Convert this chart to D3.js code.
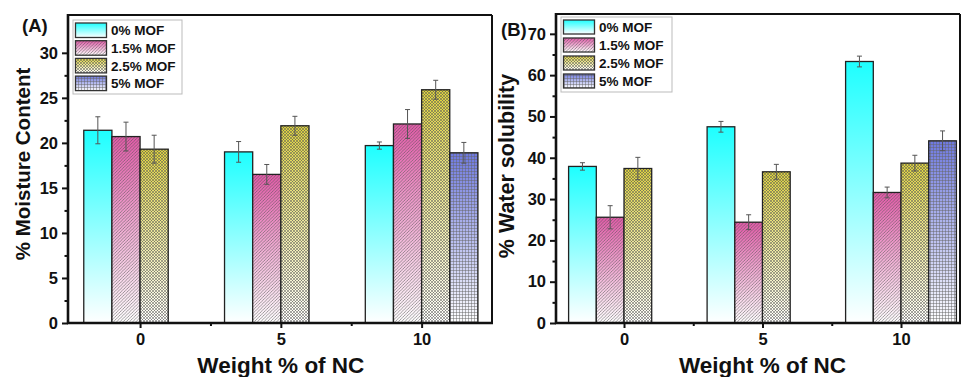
<!DOCTYPE html>
<html>
<head>
<meta charset="utf-8">
<script src="https://cdn.jsdelivr.net/npm/d3@7/dist/d3.min.js"></script>
<style>
  html, body { margin: 0; padding: 0; background: #fff; }
  svg { display: block; }
  text { font-family: "Liberation Sans", Arial, sans-serif; font-weight: bold; fill: #111; }
</style>
</head>
<body>
<svg id="chart" width="961" height="377"></svg>
<script>
// ---------------- DATA ----------------
const categories = [0, 5, 10];
const seriesLabels = ["0% MOF", "1.5% MOF", "2.5% MOF", "5% MOF"];
const xTickLabels = ["0", "5", "10"];
const xAxisTitle = "Weight % of NC";

// Panel A: % Moisture Content (per series, per category 0,5,10)
const moistureValues = [
  [21.4, 19.0, 19.7],
  [20.7, 16.5, 22.1],
  [19.3, 21.9, 25.9],
  [null, null, 18.9]
];
const moistureErrors = [
  [1.5, 1.15, 0.4],
  [1.6, 1.1, 1.6],
  [1.55, 1.05, 1.05],
  [null, null, 1.15]
];
const moistureTicks = [0, 5, 10, 15, 20, 25, 30];

// Panel B: % Water solubility
const solubilityValues = [
  [37.9, 47.5, 63.3],
  [25.6, 24.4, 31.6],
  [37.4, 36.6, 38.7],
  [null, null, 44.1]
];
const solubilityErrors = [
  [0.9, 1.3, 1.3],
  [2.8, 1.8, 1.3],
  [2.7, 1.8, 1.9],
  [null, null, 2.4]
];
const solubilityTicks = [0, 10, 20, 30, 40, 50, 60, 70];

// ---------------- STYLE ----------------
const seriesColors = ["#1effff", "#e25aa8", "#ddd23e", "#6d78df"];
const patternIds = ["pat-none", "pat-diag", "pat-dots", "pat-grid"];

const svg = d3.select("#chart");
const defs = svg.append("defs");

// gradients
seriesColors.forEach((c, i) => {
  const g = defs.append("linearGradient")
    .attr("id", "grad" + i).attr("x1", 0).attr("y1", 0).attr("x2", 0).attr("y2", 1);
  g.append("stop").attr("offset", "0%").attr("stop-color", c);
  g.append("stop").attr("offset", "100%").attr("stop-color", "#ffffff");
});

// patterns
defs.append("pattern").attr("id", "pat-none").attr("width", 4).attr("height", 4)
  .attr("patternUnits", "userSpaceOnUse");
const pd = defs.append("pattern").attr("id", "pat-diag").attr("width", 3.2).attr("height", 3.2)
  .attr("patternUnits", "userSpaceOnUse");
pd.append("path").attr("d", "M-1,1 l2,-2 M0,3.2 l3.2,-3.2 M2.2,4.2 l2,-2")
  .attr("stroke", "#555").attr("stroke-width", 0.8).attr("stroke-opacity", 0.7);
const pdot = defs.append("pattern").attr("id", "pat-dots").attr("width", 3).attr("height", 3)
  .attr("patternUnits", "userSpaceOnUse");
pdot.append("path").attr("d", "M0,0 L3,3 M3,0 L0,3")
  .attr("stroke", "#555").attr("stroke-width", 0.7).attr("stroke-opacity", 0.75);
const pg = defs.append("pattern").attr("id", "pat-grid").attr("width", 3).attr("height", 3)
  .attr("patternUnits", "userSpaceOnUse");
pg.append("path").attr("d", "M0,0.5 H3 M0.5,0 V3")
  .attr("stroke", "#666").attr("stroke-width", 0.7).attr("stroke-opacity", 0.7);

function drawPanel(cfg) {
  const x = d3.scaleLinear().domain(cfg.xDomain).range([cfg.left, cfg.right]);
  const y = d3.scaleLinear().domain(cfg.yDomain).range([cfg.bottom, cfg.top]);
  const g = svg.append("g");

  // bars
  cfg.values.forEach((vals, si) => {
    vals.forEach((v, ci) => {
      if (v == null) return;
      const x0 = x(categories[ci] + si - 2);
      const x1 = x(categories[ci] + si - 1);
      const bx = x0, bw = x1 - x0, by = y(v), bh = y(0) - y(v);
      g.append("rect").attr("x", bx).attr("y", by).attr("width", bw).attr("height", bh)
        .attr("fill", "url(#grad" + si + ")");
      g.append("rect").attr("x", bx).attr("y", by).attr("width", bw).attr("height", bh)
        .attr("fill", "url(#" + patternIds[si] + ")");
      g.append("rect").attr("x", bx).attr("y", by).attr("width", bw).attr("height", bh)
        .attr("fill", "none").attr("stroke", "#222").attr("stroke-width", 1.3);
      const e = cfg.errors[si][ci];
      const cx = (x0 + x1) / 2;
      const eg = g.append("g").attr("stroke", "#555").attr("stroke-width", 1);
      eg.append("line").attr("x1", cx).attr("x2", cx).attr("y1", y(v + e)).attr("y2", y(v - e));
      eg.append("line").attr("x1", cx - 2.5).attr("x2", cx + 2.5).attr("y1", y(v + e)).attr("y2", y(v + e));
      eg.append("line").attr("x1", cx - 2.5).attr("x2", cx + 2.5).attr("y1", y(v - e)).attr("y2", y(v - e));
    });
  });

  // frame top & right
  g.append("line").attr("x1", cfg.left).attr("x2", cfg.right).attr("y1", cfg.top).attr("y2", cfg.top)
    .attr("stroke", "#111").attr("stroke-width", 2);
  g.append("line").attr("x1", cfg.right).attr("x2", cfg.right).attr("y1", cfg.top).attr("y2", cfg.bottom)
    .attr("stroke", "#111").attr("stroke-width", 2);

  // y axis
  const yAxis = d3.axisLeft(y).tickValues(cfg.yTicks).tickSize(6).tickPadding(4).tickFormat(d3.format("d"));
  const ya = g.append("g").attr("transform", `translate(${cfg.left},0)`).call(yAxis);
  ya.select(".domain").remove();
  ya.selectAll(".tick line").attr("stroke", "#111").attr("stroke-width", 2);
  ya.selectAll(".tick text").attr("font-size", 16.5).attr("font-weight", "bold")
    .attr("font-family", "Liberation Sans, Arial, sans-serif").attr("fill", "#111");
  const minorY = [];
  for (let i = 0; i < cfg.yTicks.length - 1; i++) minorY.push((cfg.yTicks[i] + cfg.yTicks[i + 1]) / 2);
  const yMinor = d3.axisLeft(y).tickValues(minorY).tickSize(3.5).tickFormat("");
  const ym = g.append("g").attr("transform", `translate(${cfg.left},0)`).call(yMinor);
  ym.select(".domain").remove();
  ym.selectAll(".tick line").attr("stroke", "#111").attr("stroke-width", 2);
  g.append("line").attr("x1", cfg.left).attr("x2", cfg.left).attr("y1", cfg.top - 1).attr("y2", cfg.bottom + 1)
    .attr("stroke", "#111").attr("stroke-width", 2.6);

  // x axis
  const xAxis = d3.axisBottom(x).tickValues(categories).tickSize(5).tickPadding(5)
    .tickFormat((d, i) => xTickLabels[i]);
  const xa = g.append("g").attr("transform", `translate(0,${cfg.bottom})`).call(xAxis);
  xa.select(".domain").remove();
  xa.selectAll(".tick line").attr("stroke", "#111").attr("stroke-width", 2);
  xa.selectAll(".tick text").attr("font-size", 16.5).attr("font-weight", "bold")
    .attr("font-family", "Liberation Sans, Arial, sans-serif").attr("fill", "#111");
  const minorX = [];
  for (let i = 0; i < categories.length - 1; i++) minorX.push((categories[i] + categories[i + 1]) / 2);
  const xMinor = d3.axisBottom(x).tickValues(minorX).tickSize(3).tickFormat("");
  const xm = g.append("g").attr("transform", `translate(0,${cfg.bottom})`).call(xMinor);
  xm.select(".domain").remove();
  xm.selectAll(".tick line").attr("stroke", "#111").attr("stroke-width", 2);
  g.append("line").attr("x1", cfg.left - 1).attr("x2", cfg.right + 1).attr("y1", cfg.bottom).attr("y2", cfg.bottom)
    .attr("stroke", "#111").attr("stroke-width", 2.6);

  // titles
  g.append("text").attr("x", x(5)).attr("y", 373).attr("text-anchor", "middle")
    .attr("font-size", 22.5).text(xAxisTitle);
  g.append("text").attr("transform", `translate(${cfg.yTitleX},${cfg.yTitleY}) rotate(-90)`)
    .attr("text-anchor", "middle").attr("font-size", cfg.yTitleSize).text(cfg.yTitle);
  g.append("text").attr("x", cfg.panelX).attr("y", cfg.panelY).attr("font-size", 18.5).text(cfg.panelLabel);

  // legend
  const L = cfg.legend;
  g.append("rect").attr("x", L.x).attr("y", L.y).attr("width", L.w).attr("height", L.h)
    .attr("fill", "#fff").attr("stroke", "#bbb").attr("stroke-width", 1);
  seriesLabels.forEach((lab, si) => {
    const ry = L.y + 3 + si * L.step;
    g.append("rect").attr("x", L.x + 2.5).attr("y", ry).attr("width", L.sw).attr("height", L.sh)
      .attr("fill", "url(#grad" + si + ")");
    g.append("rect").attr("x", L.x + 2.5).attr("y", ry).attr("width", L.sw).attr("height", L.sh)
      .attr("fill", "url(#" + patternIds[si] + ")");
    g.append("rect").attr("x", L.x + 2.5).attr("y", ry).attr("width", L.sw).attr("height", L.sh)
      .attr("fill", "none").attr("stroke", "#333").attr("stroke-width", 1.3);
    g.append("text").attr("x", L.x + L.sw + 7).attr("y", ry + L.sh / 2 + 5)
      .attr("font-size", 13.5).text(lab);
  });
}

drawPanel({
  left: 68, right: 492, top: 15, bottom: 323,
  xDomain: [-2.56, 12.5], yDomain: [0, 34.2],
  values: moistureValues, errors: moistureErrors, yTicks: moistureTicks,
  yTitle: "% Moisture Content", yTitleX: 30, yTitleY: 164, yTitleSize: 20.5,
  panelLabel: "(A)", panelX: 22, panelY: 32,
  legend: { x: 73, y: 20, w: 109, h: 74, step: 17.7, sw: 31, sh: 14.5 }
});
drawPanel({
  left: 556, right: 960, top: 14, bottom: 323,
  xDomain: [-2.455, 12.13], yDomain: [0, 74.8],
  values: solubilityValues, errors: solubilityErrors, yTicks: solubilityTicks,
  yTitle: "% Water solubility", yTitleX: 514, yTitleY: 166, yTitleSize: 21.5,
  panelLabel: "(B)", panelX: 501, panelY: 36,
  legend: { x: 561, y: 17, w: 111, h: 75, step: 18, sw: 31, sh: 14 }
});
</script>
</body>
</html>
